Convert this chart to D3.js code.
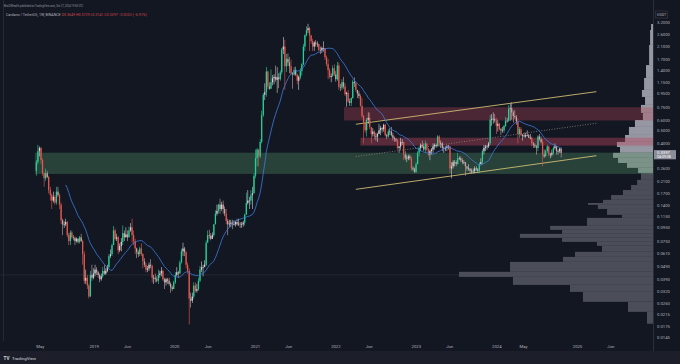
<!DOCTYPE html>
<html>
<head>
<meta charset="utf-8">
<script src="https://cdn.jsdelivr.net/npm/d3@7"></script>
<style>
  html, body { margin: 0; padding: 0; background: #131722; }
  svg { display: block; }
</style>
</head>
<body>
<div id="chart"></div>
<script>
// ADA/USDT weekly candles, Binance, week of 2018-04-16 .. week of 2024-10-21
const firstWeek = "2018-04-16";
const firstOpen = 0.25;

const weeklyClose = [
  // 2018
  0.29,0.35,0.37,0.30,0.24,0.22,0.24,0.225,0.18,0.165,0.15,0.16,0.145,0.175,0.165,0.14,0.107,0.10,0.10,0.104,
  0.083,0.075,0.087,0.08,0.079,0.075,0.078,0.074,0.08,0.075,0.06,0.038,0.04,0.035,0.029,0.042,0.04,0.043,
  // 2019
  0.046,0.044,0.042,0.039,0.041,0.045,0.043,0.045,0.048,0.058,0.06,0.07,0.09,0.078,0.08,0.064,0.069,0.074,0.086,0.08,
  0.084,0.08,0.09,0.095,0.083,0.075,0.066,0.062,0.06,0.066,0.06,0.053,0.05,0.046,0.047,0.05,0.049,0.04,0.04,0.039,
  0.038,0.042,0.043,0.045,0.039,0.037,0.039,0.038,0.036,0.034,0.033,
  // 2020
  0.037,0.042,0.044,0.043,0.052,0.063,0.066,0.062,0.05,0.045,0.028,0.027,0.029,0.035,0.032,0.033,0.038,0.046,0.048,0.048,
  0.05,0.073,0.083,0.082,0.078,0.083,0.10,0.12,0.126,0.14,0.13,0.14,0.13,0.12,0.106,0.10,0.101,0.103,0.10,0.10,
  0.104,0.10,0.101,0.10,0.10,0.103,0.118,0.144,0.15,0.15,0.165,0.17,0.23,
  // 2021
  0.31,0.36,0.32,0.41,0.65,0.92,0.96,1.37,1.06,1.02,1.14,1.22,1.25,1.19,1.24,1.20,1.35,2.00,2.10,1.50,
  1.70,1.60,1.50,1.33,1.30,1.41,1.30,1.17,1.25,1.38,1.55,2.10,2.55,2.78,2.88,2.55,2.30,2.10,2.25,2.20,
  2.20,1.98,1.97,2.05,2.05,1.75,1.55,1.40,1.25,1.27,1.45,1.30,
  // 2022
  1.20,1.52,1.05,1.04,1.14,1.06,0.93,0.95,0.82,0.80,0.87,1.15,1.12,1.00,0.94,0.90,0.76,0.64,0.57,0.50,
  0.60,0.62,0.53,0.47,0.49,0.45,0.45,0.47,0.50,0.52,0.51,0.55,0.46,0.45,0.49,0.49,0.46,0.44,0.43,0.42,
  0.37,0.38,0.41,0.41,0.33,0.31,0.31,0.32,0.31,0.26,0.26,0.245,
  // 2023
  0.28,0.34,0.37,0.39,0.38,0.36,0.40,0.36,0.33,0.35,0.36,0.38,0.39,0.38,0.45,0.40,0.40,0.37,0.37,0.37,
  0.38,0.38,0.26,0.27,0.29,0.29,0.28,0.31,0.31,0.30,0.29,0.29,0.27,0.26,0.26,0.25,0.25,0.25,0.26,0.26,
  0.25,0.28,0.29,0.35,0.37,0.38,0.38,0.40,0.60,0.61,0.61,0.59,
  // 2024
  0.54,0.56,0.51,0.50,0.50,0.54,0.59,0.59,0.72,0.73,0.68,0.64,0.63,0.58,0.47,0.51,0.46,0.46,0.45,0.46,
  0.46,0.44,0.44,0.40,0.39,0.38,0.37,0.45,0.43,0.41,0.33,0.32,0.35,0.38,0.33,0.33,0.34,0.37,0.38,0.35,
  0.35,0.3649,0.3397
];

const weeklyHigh = [
  0.30,0.39,0.38,0.375,0.31,0.245,0.26,0.25,0.23,0.19,0.17,0.175,0.165,0.19,0.19,0.17,0.145,0.11,0.105,0.11,
  0.106,0.086,0.09,0.09,0.083,0.081,0.08,0.079,0.082,0.085,0.077,0.063,0.046,0.042,0.036,0.045,0.05,0.047,
  0.05,0.048,0.045,0.043,0.043,0.048,0.05,0.047,0.05,0.06,0.065,0.072,0.097,0.093,0.085,0.082,0.072,0.079,0.098,0.09,
  0.095,0.09,0.096,0.102,0.11,0.09,0.078,0.067,0.064,0.068,0.072,0.061,0.056,0.052,0.049,0.052,0.055,0.05,0.042,0.043,
  0.041,0.046,0.045,0.048,0.046,0.04,0.04,0.04,0.04,0.037,0.035,
  0.038,0.044,0.048,0.045,0.054,0.066,0.073,0.068,0.063,0.052,0.047,0.031,0.031,0.037,0.037,0.036,0.04,0.049,0.053,0.05,
  0.054,0.076,0.09,0.091,0.086,0.087,0.10,0.127,0.14,0.142,0.155,0.147,0.15,0.136,0.13,0.11,0.108,0.108,0.108,0.107,
  0.106,0.11,0.11,0.104,0.104,0.106,0.12,0.172,0.18,0.16,0.18,0.19,0.24,
  0.36,0.37,0.36,0.43,0.70,0.95,1.12,1.48,1.39,1.14,1.42,1.29,1.31,1.52,1.48,1.33,1.40,2.05,2.47,2.36,
  1.85,1.87,1.76,1.68,1.35,1.48,1.49,1.32,1.28,1.45,1.58,2.20,2.60,2.97,3.10,2.95,2.55,2.40,2.30,2.35,
  2.30,2.20,2.10,2.10,2.30,2.05,1.80,1.70,1.45,1.33,1.52,1.55,
  1.38,1.62,1.60,1.11,1.20,1.25,1.12,0.97,1.00,0.86,0.88,1.19,1.24,1.15,1.00,0.98,0.93,0.87,0.65,0.60,
  0.62,0.68,0.68,0.53,0.52,0.50,0.48,0.48,0.56,0.54,0.53,0.56,0.56,0.47,0.51,0.52,0.53,0.48,0.45,0.44,
  0.43,0.38,0.44,0.43,0.41,0.35,0.33,0.33,0.33,0.32,0.27,0.265,
  0.29,0.35,0.38,0.40,0.42,0.40,0.42,0.40,0.37,0.36,0.37,0.40,0.40,0.40,0.46,0.46,0.42,0.41,0.38,0.38,
  0.39,0.39,0.38,0.29,0.30,0.30,0.30,0.34,0.32,0.32,0.31,0.30,0.29,0.27,0.28,0.26,0.26,0.26,0.27,0.27,
  0.26,0.29,0.31,0.36,0.39,0.39,0.39,0.41,0.65,0.66,0.68,0.66,
  0.62,0.60,0.57,0.52,0.53,0.55,0.63,0.62,0.77,0.79,0.81,0.70,0.71,0.65,0.61,0.53,0.53,0.47,0.48,0.48,
  0.50,0.47,0.47,0.45,0.41,0.40,0.39,0.46,0.47,0.45,0.43,0.36,0.36,0.39,0.38,0.34,0.36,0.38,0.40,0.38,
  0.36,0.37,0.3729
];

const weeklyLow = [
  0.23,0.28,0.32,0.28,0.23,0.19,0.21,0.22,0.17,0.15,0.13,0.145,0.14,0.14,0.16,0.13,0.10,0.083,0.094,0.097,
  0.08,0.07,0.07,0.078,0.076,0.07,0.073,0.072,0.072,0.074,0.05,0.036,0.036,0.033,0.028,0.029,0.038,0.039,
  0.041,0.042,0.04,0.037,0.038,0.04,0.042,0.042,0.044,0.047,0.056,0.058,0.07,0.076,0.075,0.06,0.062,0.063,0.07,0.075,
  0.08,0.075,0.08,0.088,0.073,0.07,0.06,0.056,0.057,0.058,0.058,0.047,0.048,0.044,0.044,0.045,0.047,0.037,0.036,0.037,
  0.037,0.036,0.04,0.041,0.038,0.033,0.035,0.036,0.035,0.031,0.032,
  0.033,0.036,0.041,0.04,0.043,0.051,0.058,0.058,0.047,0.043,0.018,0.024,0.026,0.028,0.031,0.031,0.032,0.037,0.044,0.041,
  0.048,0.049,0.075,0.078,0.076,0.078,0.081,0.10,0.116,0.12,0.12,0.126,0.12,0.115,0.10,0.083,0.095,0.095,0.092,0.098,
  0.096,0.098,0.097,0.094,0.094,0.096,0.098,0.118,0.14,0.13,0.14,0.13,0.17,
  0.22,0.27,0.27,0.31,0.40,0.63,0.84,0.89,1.01,1.00,1.02,1.08,1.10,1.15,0.95,1.03,1.17,1.30,1.85,1.00,
  1.36,1.50,1.33,1.30,1.02,1.28,1.27,1.10,1.00,1.20,1.28,1.52,1.95,2.50,2.65,1.95,2.20,1.95,1.95,2.10,
  2.08,1.93,1.85,1.88,1.93,1.67,1.50,1.20,1.22,1.14,1.25,1.27,
  1.15,1.17,1.00,0.98,1.00,1.02,0.90,0.75,0.80,0.76,0.76,0.86,1.05,0.97,0.87,0.86,0.75,0.62,0.40,0.48,
  0.45,0.56,0.51,0.40,0.45,0.43,0.42,0.41,0.47,0.46,0.48,0.49,0.45,0.43,0.44,0.46,0.45,0.42,0.41,0.41,
  0.36,0.34,0.36,0.39,0.30,0.30,0.29,0.30,0.30,0.25,0.25,0.24,
  0.24,0.28,0.32,0.35,0.37,0.35,0.34,0.35,0.32,0.30,0.33,0.34,0.36,0.37,0.38,0.38,0.37,0.35,0.34,0.35,
  0.35,0.36,0.24,0.22,0.26,0.27,0.27,0.28,0.30,0.29,0.28,0.28,0.23,0.25,0.25,0.24,0.24,0.24,0.24,0.25,
  0.24,0.24,0.28,0.28,0.33,0.35,0.36,0.37,0.39,0.54,0.56,0.57,
  0.47,0.49,0.50,0.46,0.48,0.48,0.53,0.57,0.58,0.59,0.60,0.57,0.61,0.55,0.40,0.44,0.45,0.42,0.44,0.44,
  0.45,0.44,0.43,0.38,0.37,0.37,0.33,0.35,0.42,0.40,0.27,0.31,0.32,0.34,0.32,0.31,0.32,0.33,0.36,0.33,
  0.33,0.34,0.3141
];

const maLength = 20;

// volume profile rows (price edges, top to bottom) and relative volume per row
const profileEdges = [3.09,2.79,2.16,1.53,1.227,0.999,0.886,0.773,0.674,0.597,0.530,0.462,0.410,0.376,0.340,0.312,
  0.286,0.263,0.241,0.214,0.196,0.180,0.165,0.152,0.144,0.1395,0.130,0.1175,0.1116,0.0973,0.0909,0.0849,0.0793,
  0.0740,0.0691,0.0624,0.0572,0.0525,0.0443,0.0406,0.0354,0.0314,0.0265,0.0223,0.0182];
const profileVol = [1,1.5,2,3.6,4.6,5.7,4.1,6.2,5.2,9.3,12.4,14.4,18.6,17,20.6,18,13.4,7.7,6.2,8.2,11.3,15.5,
  21.6,25.8,33.5,28.4,23.7,16,34,53,46.9,68.6,46.9,28.9,26.3,40.2,46.4,73.7,100,72.2,42.8,36.1,12.9,3.1];

// drawn zones: start date, upper and lower price
const zoneStart = ["2018-04-09", "2022-02-09", "2022-04-25"];
const zoneTop = [0.341, 0.743, 0.441];
const zoneBottom = [0.237, 0.592, 0.385];
const zoneKind = ["support", "resistance", "resistance"];

// channel lines: [date, price] pairs
const channelUpper = [["2022-04-04", 0.555], ["2025-03-30", 0.970]];
const channelMiddle = [["2022-04-04", 0.319], ["2025-03-30", 0.565]];
const channelLower = [["2022-04-04", 0.182], ["2025-03-30", 0.324]];
const levelLine = 0.042;

const priceTicks = [3.2,2.6,2.1,1.7,1.4,1.15,0.95,0.75,0.6,0.5,0.4,0.26,0.21,0.17,0.14,0.115,
  0.095,0.075,0.061,0.049,0.039,0.032,0.026,0.0215,0.0175,0.0145];
const timeTickDates = ["2018-05-01","2019-01-01","2019-06-01","2020-01-01","2020-06-01","2021-01-01","2021-06-01",
  "2022-01-01","2022-06-01","2023-01-01","2023-06-01","2024-01-01","2024-05-01","2025-01-01","2025-06-01"];
const timeTickLabels = ["May","2019","Jun","2020","Jun","2021","Jun","2022","Jun","2023","Jun","2024","May","2025","Jun"];

const lastPrice = 0.3397;

// ---------------------------------------------------------------
const width = 680, height = 364;
const plotRight = 653, plotBottom = 341;
const font = "Roboto, 'Liberation Sans', sans-serif";
const parse = d3.utcParse("%Y-%m-%d");

const x = d3.scaleUtc()
  .domain([parse("2019-01-01"), parse("2025-01-01")])
  .range([93.7, 577]);
const y = d3.scaleLog()
  .domain([0.0145, 3.2])
  .range([337, 22]);
const volX = d3.scaleLinear().domain([0, 100]).range([0, 194]);

const svg = d3.select("#chart").append("svg")
  .attr("width", width)
  .attr("height", height);

svg.append("rect").attr("width", width).attr("height", height).attr("fill", "#131722");
svg.append("rect").attr("y", 351).attr("width", width).attr("height", height - 351).attr("fill", "#1c1f2a");

svg.append("clipPath").attr("id", "plot")
  .append("rect").attr("width", plotRight).attr("height", plotBottom);

const plot = svg.append("g").attr("clip-path", "url(#plot)");

// faint guide lines
plot.append("line")
  .attr("x1", 0).attr("x2", plotRight)
  .attr("y1", y(levelLine)).attr("y2", y(levelLine))
  .attr("stroke", "#2f3340").attr("stroke-width", 0.6);
plot.append("line")
  .attr("x1", 3.5).attr("x2", 3.5).attr("y1", 0).attr("y2", plotBottom)
  .attr("stroke", "#2a2e39").attr("stroke-width", 0.8);

// volume profile
const rows = profileVol.map((v, i) => ({ v, top: profileEdges[i], bottom: profileEdges[i + 1] }));
plot.append("g").selectAll("rect")
  .data(rows)
  .join("rect")
  .attr("x", d => plotRight - volX(d.v))
  .attr("width", d => volX(d.v))
  .attr("y", d => y(d.top))
  .attr("height", d => y(d.bottom) - y(d.top))
  .attr("fill", d => d.bottom >= 0.24 ? "#9598a2" : "#4b4e59");

// zones
const zones = zoneStart.map((s, i) => ({ t: parse(s), top: zoneTop[i], bottom: zoneBottom[i], kind: zoneKind[i] }));
plot.append("g").selectAll("rect")
  .data(zones)
  .join("rect")
  .attr("x", d => x(d.t))
  .attr("width", d => plotRight - x(d.t))
  .attr("y", d => y(d.top))
  .attr("height", d => y(d.bottom) - y(d.top))
  .attr("fill", d => d.kind === "support" ? "#4f8a5e" : "#b8465c")
  .attr("fill-opacity", (d, i) => d.kind === "support" ? 0.38 : (i === 1 ? 0.34 : 0.42));

// channel
const chanLine = d3.line().x(d => x(parse(d[0]))).y(d => y(d[1]));
plot.append("path").attr("d", chanLine(channelUpper))
  .attr("fill", "none").attr("stroke", "#cdbb72").attr("stroke-width", 0.9);
plot.append("path").attr("d", chanLine(channelLower))
  .attr("fill", "none").attr("stroke", "#cdbb72").attr("stroke-width", 0.9);
plot.append("path").attr("d", chanLine(channelMiddle))
  .attr("fill", "none").attr("stroke", "#8d8478").attr("stroke-width", 0.8)
  .attr("stroke-dasharray", "1,1.6");

// candles
const start = parse(firstWeek);
const candles = weeklyClose.map((c, i) => {
  const o = i === 0 ? firstOpen : weeklyClose[i - 1];
  return {
    t: d3.utcDay.offset(start, 7 * i),
    o, c,
    h: Math.max(weeklyHigh[i], o, c),
    l: Math.min(weeklyLow[i], o, c)
  };
});

function candleColor(d) {
  const ch = (d.c - d.o) / d.o;
  if (ch > 0.08) return "#26cf98";
  if (ch < -0.08) return "#e2584f";
  return ch >= 0 ? "#cdd1d4" : "#c9a5a2";
}

const cg = plot.append("g");
cg.selectAll("rect.wick")
  .data(candles)
  .join("rect")
  .attr("class", "wick")
  .attr("x", d => x(d.t) - 0.3)
  .attr("width", 0.6)
  .attr("y", d => y(d.h))
  .attr("height", d => Math.max(0.5, y(d.l) - y(d.h)))
  .attr("fill", candleColor);
cg.selectAll("rect.body")
  .data(candles)
  .join("rect")
  .attr("class", "body")
  .attr("x", d => x(d.t) - 0.65)
  .attr("width", 1.3)
  .attr("y", d => y(Math.max(d.o, d.c)))
  .attr("height", d => Math.max(0.6, Math.abs(y(d.o) - y(d.c))))
  .attr("fill", candleColor);

// moving average
const ma = candles.map((d, i) => {
  if (i < maLength - 1) return null;
  return { t: d.t, v: d3.mean(weeklyClose.slice(i - maLength + 1, i + 1)) };
}).filter(Boolean);
plot.append("path")
  .datum(ma)
  .attr("d", d3.line().x(d => x(d.t)).y(d => y(d.v)))
  .attr("fill", "none")
  .attr("stroke", "#3d7be0")
  .attr("stroke-width", 0.8);

// right axis
svg.append("line")
  .attr("x1", plotRight + 0.5).attr("x2", plotRight + 0.5)
  .attr("y1", 0).attr("y2", 351)
  .attr("stroke", "#2a2e39");

const yAxis = svg.append("g")
  .attr("transform", `translate(${plotRight},0)`)
  .call(d3.axisRight(y).tickValues(priceTicks).tickFormat(d3.format(".4f")).tickSize(0).tickPadding(4));
yAxis.select(".domain").remove();
yAxis.selectAll("text")
  .attr("fill", "#b2b5be")
  .attr("font-family", font)
  .attr("font-size", 4.2);

svg.append("rect")
  .attr("x", 655.5).attr("y", 11).attr("width", 12).attr("height", 7)
  .attr("fill", "#131722").attr("stroke", "#434651").attr("stroke-width", 0.5);
svg.append("text")
  .attr("x", 661.5).attr("y", 14.6)
  .attr("text-anchor", "middle").attr("dominant-baseline", "middle")
  .attr("fill", "#b2b5be").attr("font-family", font).attr("font-size", 3.8)
  .text("USDT");

// last price label
const py = y(lastPrice);
svg.append("rect")
  .attr("x", 654).attr("y", py - 2.8).attr("width", 22).attr("height", 9.2)
  .attr("fill", "#8b8e98");
svg.append("text")
  .attr("x", 657).attr("y", py + 0.2)
  .attr("dominant-baseline", "middle")
  .attr("fill", "#ffffff").attr("font-family", font).attr("font-size", 4.2)
  .text(d3.format(".4f")(lastPrice));
svg.append("text")
  .attr("x", 657).attr("y", py + 4.4)
  .attr("dominant-baseline", "middle")
  .attr("fill", "#ffffff").attr("font-family", font).attr("font-size", 3.6)
  .text("04:09:38");

// bottom axis
const xAxis = svg.append("g")
  .attr("transform", "translate(0,347)")
  .call(d3.axisBottom(x)
    .tickValues(timeTickDates.map(parse))
    .tickFormat((d, i) => timeTickLabels[i])
    .tickSize(0));
xAxis.select(".domain").remove();
xAxis.selectAll("text")
  .attr("y", 0).attr("dy", "0.35em")
  .attr("fill", "#b2b5be")
  .attr("font-family", font)
  .attr("font-size", 4.2);

// header
svg.append("text")
  .attr("x", 4).attr("y", 6.8)
  .attr("fill", "#9598a1").attr("font-family", font).attr("font-size", 2.6)
  .text("BitsOfWealth published on TradingView.com, Oct 27, 2024 19:50 UTC");
const hdr = svg.append("text")
  .attr("x", 6).attr("y", 16.3)
  .attr("font-family", font).attr("font-size", 3.6);
hdr.append("tspan").attr("fill", "#b2b5be").text("Cardano / TetherUS, 1W, BINANCE  ");
hdr.append("tspan").attr("fill", "#d0454c").text("O0.3649 H0.3729 L0.3141 C0.3397 \u22120.0252 (\u22126.91%)");

// footer logo
svg.append("text")
  .attr("x", 3.5).attr("y", 359.5)
  .attr("fill", "#d1d4dc").attr("font-family", font).attr("font-size", 4.6).attr("font-weight", 700)
  .text("TV");
svg.append("text")
  .attr("x", 12).attr("y", 359.5)
  .attr("fill", "#d1d4dc").attr("font-family", font).attr("font-size", 4.4)
  .text("TradingView");
</script>
</body>
</html>
